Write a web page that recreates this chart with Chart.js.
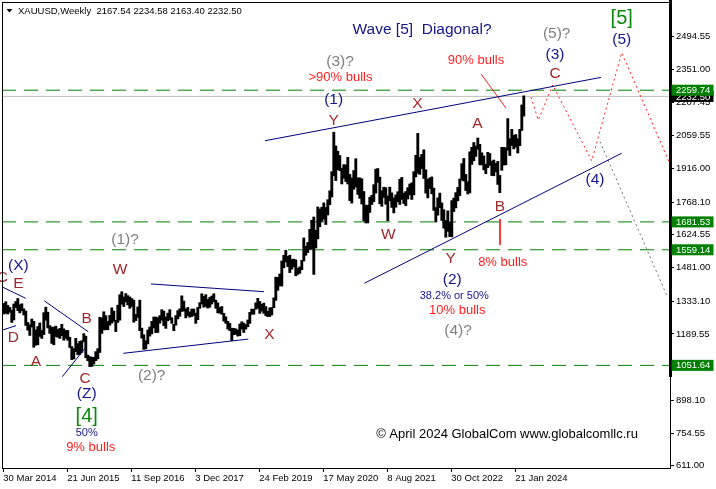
<!DOCTYPE html>
<html>
<head>
<meta charset="utf-8">
<title>XAUUSD Weekly</title>
<script src="https://cdn.jsdelivr.net/npm/chart.js@4.4.1/dist/chart.umd.min.js"></script>
<style>
  html, body { margin: 0; padding: 0; background: #fff; }
</style>
</head>
<body>
<canvas id="myChart" width="716" height="489"></canvas>
<script>
// weekly XAUUSD, grouped in two-week periods starting 30 Mar 2014 (week 0)
const firstWeek = 0;
const weeksPerBar = 2;
const lows = [
  1277,1280,1277,1285,1240,1251,1306,1292,1282,1291,1273,1227,1206,1183,1220,1131,1140,1142,1178,1170,
  1187,1250,1216,1192,1148,1142,1178,1175,1170,1182,1162,1170,1162,1130,1077,1080,1112,1098,1100,1108,
  1155,1085,1072,1046,1047,1058,1072,1080,1108,1192,1207,1208,1208,1228,1237,1245,1200,1240,1250,1320,
  1310,1330,1317,1302,1310,1241,1248,1262,1204,1171,1122,1124,1146,1180,1190,1216,1195,1196,1237,1250,
  1226,1214,1247,1252,1236,1204,1228,1256,1267,1288,1290,1260,1270,1263,1266,1271,1236,1252,1302,1321,
  1307,1310,1303,1307,1321,1331,1302,1282,1281,1276,1246,1236,1211,1204,1160,1186,1188,1180,1182,1211,
  1196,1211,1221,1236,1276,1276,1298,1302,1280,1290,1280,1270,1266,1266,1273,1305,1337,1381,1400,1400,
  1480,1505,1485,1459,1474,1484,1445,1451,1456,1472,1510,1535,1547,1561,1563,1451,1567,1607,1660,1684,
  1693,1670,1712,1757,1791,1884,1863,1911,1906,1848,1873,1859,1848,1775,1764,1825,1835,1802,1785,1760,
  1687,1677,1677,1723,1758,1770,1808,1855,1761,1750,1789,1759,1687,1774,1745,1721,1746,1770,1758,1780,
  1762,1753,1782,1800,1780,1800,1879,1895,1890,1915,1872,1808,1787,1828,1805,1732,1681,1711,1744,1688,
  1654,1614,1640,1617,1616,1727,1743,1774,1797,1865,1861,1819,1804,1809,1934,1950,1969,2000,1932,1932,
  1910,1893,1920,1930,1885,1884,1901,1846,1810,1908,1931,1932,1996,1973,2017,2002,2010,1984,2016,2083,
  2146
];
const highs = [
  1324,1331,1315,1306,1294,1321,1332,1345,1318,1322,1300,1290,1240,1230,1255,1245,1208,1222,1238,1205,
  1283,1307,1285,1226,1220,1219,1224,1209,1214,1232,1212,1205,1205,1175,1134,1125,1170,1147,1157,1160,
  1191,1180,1097,1090,1088,1087,1112,1125,1263,1260,1287,1270,1245,1271,1304,1290,1250,1316,1362,1375,
  1352,1367,1358,1352,1345,1338,1275,1308,1338,1215,1186,1160,1207,1220,1245,1264,1264,1261,1270,1296,
  1290,1264,1281,1296,1261,1232,1270,1292,1300,1357,1334,1300,1306,1286,1299,1299,1281,1306,1327,1366,
  1355,1362,1341,1350,1356,1366,1338,1326,1306,1310,1280,1265,1245,1236,1215,1214,1212,1207,1233,1243,
  1237,1230,1251,1284,1299,1298,1326,1346,1332,1320,1325,1310,1289,1304,1306,1348,1439,1438,1453,1510,
  1535,1557,1530,1535,1517,1518,1515,1478,1484,1513,1611,1575,1591,1649,1689,1703,1645,1747,1738,1746,
  1765,1745,1779,1818,1902,2075,2015,1992,1973,1917,1933,1932,1965,1890,1875,1907,1959,1875,1875,1871,
  1815,1755,1755,1790,1798,1845,1913,1916,1878,1818,1834,1832,1796,1834,1809,1787,1800,1814,1869,1877,
  1808,1815,1832,1848,1853,1902,1974,2070,1966,1978,1998,1910,1869,1875,1879,1830,1745,1787,1808,1765,
  1735,1688,1730,1680,1775,1786,1810,1833,1870,1937,1960,1890,1858,1989,2009,2030,2015,2050,2022,1985,
  1971,1935,1987,1982,1948,1953,1939,1947,1886,2009,2009,2007,2135,2047,2088,2062,2065,2047,2088,2195,
  2235
];

const xTickWeeks = [0, 64, 128, 192, 256, 320, 384, 448, 512];
const xTickLabels = ['30 Mar 2014', '21 Jun 2015', '11 Sep 2016', '3 Dec 2017', '24 Feb 2019',
                     '17 May 2020', '8 Aug 2021', '30 Oct 2022', '21 Jan 2024'];
const yTicks = [611.00, 754.55, 898.10, 1046.00, 1189.55, 1333.10, 1481.00, 1624.55,
                1768.10, 1916.00, 2059.55, 2207.45, 2351.00, 2494.55];

const levels = [2259.74, 1681.53, 1559.14, 1051.64];
const bidPrice = 2232.50;
const lastBar = { open: 2167.54, high: 2234.58, low: 2163.40, close: 2232.50 };

// wave drawing in [week, price]
const trendLines = [
  [[261.7, 2038], [597.7, 2316]],
  [[361, 1412], [618.4, 1983]],
  [[147.7, 1409], [260.7, 1375]],
  [[120, 1104.5], [245, 1167]],
  [[-1.6, 1397], [22.4, 1346]],
  [[-0.6, 1207], [12.7, 1226]],
  [[41, 1335], [85, 1199]],
  [[59, 1002], [81.7, 1126.5]]
];
const redMarks = [
  [[496.7, 1694], [496.7, 1580]],
  [[477.7, 2331], [502.7, 2181.5]]
];
const projection = [[527.7, 2229], [535, 2129], [549.4, 2282.5], [588.4, 1950], [618.4, 2424], [666.7, 1936]];
const altProjection = [[596.7, 2034], [663.4, 1360]];

const navy = '#14148c', brown = '#a0282d', grey = '#808080', red = '#ff1e1e', green = '#0a8a0a';
const waveLabels = [
  ['Wave [5]  Diagonal?', 418.7, 2527, navy, 15.5],
  ['(5)?', 553.4, 2509, grey, 15.5],
  ['[5]', 618.4, 2575, green, 20],
  ['(5)', 618.4, 2483, navy, 15.5],
  ['(3)', 551.7, 2417, navy, 15.5],
  ['C', 551.7, 2334, brown, 15.5],
  ['90% bulls', 472.7, 2392, red, 13],
  ['(3)?', 336.7, 2385, grey, 15.5],
  ['>90% bulls', 337.2, 2318, red, 13],
  ['(1)', 330.3, 2217, navy, 15.5],
  ['Y', 330.3, 2126, brown, 15.5],
  ['X', 414, 2199, brown, 15.5],
  ['A', 474, 2114, brown, 15.5],
  ['B', 496.7, 1748, brown, 15.5],
  ['8% bulls', 499.4, 1502, red, 13],
  ['W', 385, 1624, brown, 15.5],
  ['Y', 447.4, 1522, brown, 15.5],
  ['(2)', 449, 1429, navy, 15.5],
  ['38.2% or 50%', 451, 1356, navy, 11],
  ['10% bulls', 454, 1292, red, 13],
  ['(4)?', 454.7, 1202, grey, 15.5],
  ['(4)', 591.7, 1865, navy, 15.5],
  ['(1)?', 121.7, 1602, grey, 15.5],
  ['W', 116.7, 1470, brown, 15.5],
  ['X', 266, 1185, brown, 15.5],
  ['(2)?', 148.4, 1005, grey, 15.5],
  ['(X)', 15, 1487, navy, 15.5],
  ['E', 15, 1412, brown, 15.5],
  ['C', -1, 1435, brown, 15.5],
  ['D', 10, 1171, brown, 15.5],
  ['A', 32.7, 1068, brown, 15.5],
  ['B', 83.4, 1258, brown, 15.5],
  ['C', 81.7, 992, brown, 15.5],
  ['(Z)', 83.4, 929, navy, 15.5],
  ['[4]', 83.4, 826, green, 20],
  ['50%', 83.4, 757, navy, 11],
  ['9% bulls', 87.4, 690, red, 13],
  ['\u00a9 April 2024 GlobalCom www.globalcomllc.ru', 503.7, 750, '#000', 13]
];

const xMin = -1.3, xMax = 666.7;
const axisFont = { family: '"Liberation Sans", Arial, sans-serif', size: 9.5 };

function lineSet(points, color, dash, width) {
  return {
    type: 'line',
    data: points.map(p => ({ x: p[0], y: p[1] })),
    borderColor: color,
    borderWidth: width || 1,
    borderDash: dash || [],
    pointRadius: 0,
    fill: false,
    tension: 0,
    order: 1
  };
}

let datasets = [{
  type: 'bar',
  data: lows.map((lo, k) => ({ x: firstWeek + k * weeksPerBar + 0.5, y: [lo, highs[k]] })),
  backgroundColor: '#000',
  borderWidth: 0,
  barThickness: 2.2,
  order: 10
}];
datasets.push(Object.assign(lineSet([[xMin, bidPrice], [xMax, bidPrice]], '#c0c0c0'), { order: 20 }));
levels.forEach(lv => datasets.push(Object.assign(lineSet([[xMin, lv], [xMax, lv]], '#008000', [14, 8]), { order: 15 })));
trendLines.forEach(l => datasets.push(lineSet(l, '#00007f')));
redMarks.forEach(l => datasets.push(lineSet(l, red)));
datasets.push(lineSet(projection, red, [2, 3]));
datasets.push(lineSet(altProjection, '#707070', [2, 3]));

const overlay = {
  id: 'overlay',
  afterDatasetsDraw(chart) {
    const { ctx, scales: { x, y } } = chart;
    ctx.save();
    ctx.textAlign = 'center';
    ctx.textBaseline = 'middle';
    waveLabels.forEach(l => {
      ctx.font = l[4] + 'px "Liberation Sans", Arial, sans-serif';
      ctx.fillStyle = l[3];
      ctx.fillText(l[0], x.getPixelForValue(l[1]), y.getPixelForValue(l[2]));
    });
    ctx.restore();
  },
  afterDraw(chart) {
    const { ctx, chartArea: a, scales: { y } } = chart;
    ctx.save();
    // chart frame
    ctx.strokeStyle = '#000';
    ctx.lineWidth = 1;
    ctx.strokeRect(a.left + 0.5, a.top + 0.5, a.right - a.left, a.bottom - a.top);
    ctx.lineWidth = 3;
    ctx.beginPath();
    ctx.moveTo(a.right + 0.5, 0);
    ctx.lineTo(a.right + 0.5, y.getPixelForValue(1000));
    ctx.stroke();

    // price tags on the scale
    ctx.font = '9.5px "Liberation Sans", Arial, sans-serif';
    ctx.textAlign = 'left';
    ctx.textBaseline = 'middle';
    const tag = (v, bg) => {
      const py = y.getPixelForValue(v);
      ctx.fillStyle = bg;
      ctx.fillRect(a.right + 1.5, py - 5.5, 42, 11);
      ctx.fillStyle = '#fff';
      ctx.fillText(v.toFixed(2), a.right + 6, py + 0.5);
    };
    tag(bidPrice, '#000');
    levels.forEach(v => tag(v, '#008000'));

    // symbol header
    ctx.fillStyle = '#000';
    ctx.beginPath();
    ctx.moveTo(6.5, 9);
    ctx.lineTo(12.5, 9);
    ctx.lineTo(9.5, 12.5);
    ctx.closePath();
    ctx.fill();
    ctx.fillText('XAUUSD,Weekly  ' + [lastBar.open, lastBar.high, lastBar.low, lastBar.close]
      .map(v => v.toFixed(2)).join(' '), 18, 11);
    ctx.restore();
  }
};

new Chart(document.getElementById('myChart'), {
  type: 'bar',
  data: { datasets: datasets },
  options: {
    responsive: false,
    animation: false,
    events: [],
    layout: { padding: { left: 2, top: 2, right: 0, bottom: 0 } },
    plugins: { legend: { display: false }, tooltip: { enabled: false } },
    scales: {
      x: {
        type: 'linear',
        min: xMin,
        max: xMax,
        offset: false,
        afterBuildTicks: s => { s.ticks = xTickWeeks.map(v => ({ value: v })); },
        afterFit: s => { s.height = 21; s.paddingLeft = 0; s.paddingRight = 0; },
        ticks: {
          callback: v => xTickLabels[xTickWeeks.indexOf(v)],
          align: 'start',
          maxRotation: 0,
          autoSkip: false,
          padding: 1,
          color: '#000',
          font: axisFont
        },
        grid: { drawOnChartArea: false, offset: false, tickLength: 4, color: '#000' },
        border: { color: '#000' }
      },
      y: {
        position: 'right',
        min: 601,
        max: 2647,
        afterBuildTicks: s => { s.ticks = yTicks.map(v => ({ value: v })); },
        afterFit: s => { s.width = 46; s.paddingTop = 0; s.paddingBottom = 0; },
        ticks: {
          callback: v => v.toFixed(2),
          autoSkip: false,
          padding: 2,
          color: '#000',
          font: axisFont
        },
        grid: { drawOnChartArea: false, tickLength: 4, color: '#000' },
        border: { color: '#000' }
      }
    }
  },
  plugins: [overlay]
});
</script>
</body>
</html>
